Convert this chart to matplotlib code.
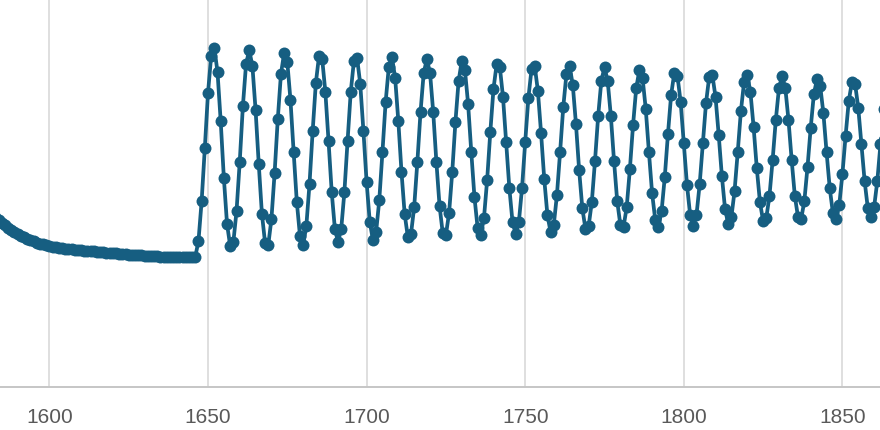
import matplotlib
matplotlib.use("Agg")
import matplotlib.pyplot as plt

# ---- data (y has no labelled scale) ----
start_year = 1583
calm_values = [170, 167, 164.5, 162, 159.5, 157.5, 155.5, 153.5, 151.5, 150,
               148.5, 147, 145.7, 144.5, 143.5, 142.6, 141.8, 141, 140.4, 139.8,
               139.3, 138.8, 138.4, 138, 137.7, 137.4, 137.1, 136.8, 136.5, 136.2,
               136.0, 135.7, 135.4, 135.1, 134.8, 134.5, 134.2, 133.9, 133.6, 133.3,
               133.0, 132.8, 132.5, 132.2, 132.0, 131.8, 131.6, 131.4, 131.2, 131.0,
               130.8, 130.6, 130.4, 130.2, 130.0, 129.9, 129.8, 129.7, 129.6, 129.6,
               129.6, 129.7, 129.9, 130.4]
cycle_values = [146, 186, 239, 294, 331,
                339, 315, 266, 209, 163, 141, 145, 176, 225, 281,
                323, 337, 321, 277, 223, 173, 144, 142, 168, 214,
                268, 313, 334, 325, 287, 235, 185, 151, 142, 161,
                203, 256, 304, 331, 328, 295, 246, 195, 158, 145,
                158, 195, 246, 295, 326, 329, 303, 256, 205, 165,
                147, 155, 187, 235, 285, 320, 330, 309, 266, 215,
                173, 150, 153, 180, 225, 275, 314, 328, 314, 275,
                225, 181, 154, 152, 174, 215, 265, 306, 326, 317,
                283, 235, 190, 159, 152, 169, 207, 255, 298, 323,
                320, 290, 245, 199, 165, 153, 165, 199, 245, 289,
                318, 321, 296, 254, 208, 172, 155, 162, 192, 235,
                280, 313, 321, 302, 263, 217, 179, 158, 161, 185,
                226, 271, 306, 320, 306, 271, 226, 186, 162, 160,
                180, 218, 262, 299, 317, 309, 278, 235, 194, 167,
                160, 176, 210, 253, 292, 314, 311, 285, 244, 202,
                172, 161, 172, 203, 244, 284, 310, 312, 290, 252,
                211, 178, 163, 170, 196, 235, 276, 305, 312, 295,
                260, 219, 185, 166, 169, 191, 227, 267, 299, 311,
                299, 267, 227, 191, 170, 168, 186, 220, 259, 293,
                308, 301, 274, 235, 199, 174, 168, 182, 213, 251,
                286, 305, 303, 279, 243, 206, 179, 170, 180, 206,
                243, 278]
tick_years = [1600, 1650, 1700, 1750, 1800, 1850]

values = calm_values + cycle_values
years = list(range(start_year, start_year + len(values)))

plt.rcParams["font.family"] = ["Liberation Sans", "DejaVu Sans"]

fig = plt.figure(figsize=(8.8, 4.3), dpi=100)
ax = fig.add_axes([0, 43 / 430, 1, 387 / 430])

ax.plot(years, values, color="#165e81", lw=2.7, marker="o", ms=8.6,
        mew=0, solid_joinstyle="round", solid_capstyle="round", zorder=3)

ax.set_xlim(1584.43, 1861.85)
ax.set_ylim(0, 387)
ax.set_xticks(tick_years)
ax.set_xticklabels([str(t) for t in tick_years])
ax.set_yticks([])
ax.grid(axis="x", color="#d9d9d9", lw=1.2)
ax.set_axisbelow(True)
ax.tick_params(axis="x", length=0, pad=15, labelsize=15, labelcolor="#595959")
for s in ["left", "right", "top"]:
    ax.spines[s].set_visible(False)
ax.spines["bottom"].set_color("#c6c6c6")
ax.spines["bottom"].set_linewidth(1.4)
ax.patch.set_alpha(0)

fig.savefig("out.png", dpi=100)
